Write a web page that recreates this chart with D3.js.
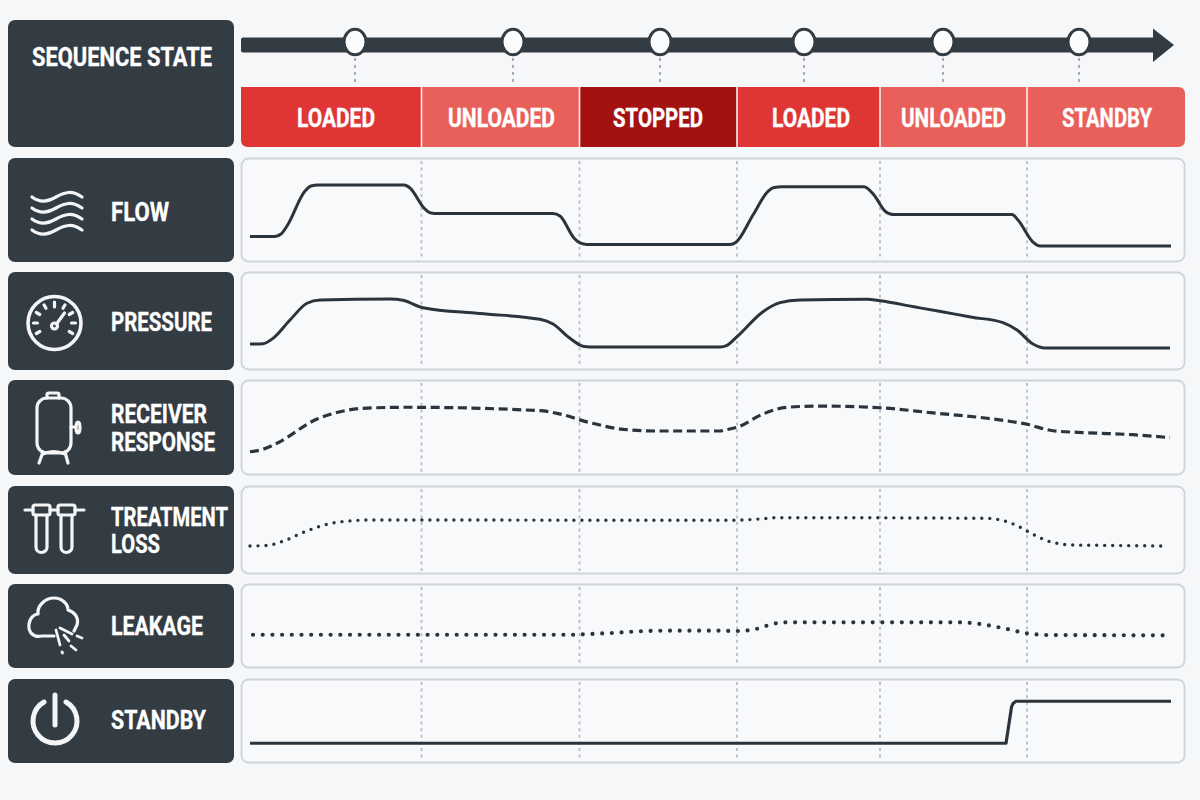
<!DOCTYPE html>
<html>
<head>
<meta charset="utf-8">
<script src="https://cdn.jsdelivr.net/npm/d3@7"></script>
<style>
  html, body { margin: 0; background: #f6f7f9; }
  svg { display: block; }
  text { font-family: "Liberation Sans Narrow", "Roboto", sans-serif; font-weight: 700; fill: #fff; stroke: #fff; stroke-width: 0.35px; }
</style>
</head>
<body>
<div id="chart"></div>
<script>
// states along the sequence
const stateNames = ["LOADED", "UNLOADED", "STOPPED", "LOADED", "UNLOADED", "STANDBY"];
const stateEdges = [-9, 171.5, 329.5, 487, 630, 777, 935];
const stateFills = ["#e03535", "#e9605a", "#a31210", "#e03535", "#e9605a", "#e9605a"];
const markerTimes = [105, 263, 410, 554, 693, 829];

// traces, [time, level] with level as % of the row height
const flowTrace = [[0,24.5],[25,24.5],[31,26.9],[37,34.6],[55,68.3],[61,73.1],[68,74],[154,74],[160,71.2],[174,51.9],[181,47.1],[188,46.6],[303,46.6],[310,44.2],[324,23.1],[330,18.3],[337,16.8],[480,16.8],[486,19],[503,45.2],[518,68],[524,71.6],[532,72.4],[614,72.4],[624,64.4],[635,49],[643,45.7],[762,45.7],[768,40.4],[783,19.2],[790,15.4],[921,15.4]];
const pressureTrace = [[0,26.5],[13,26.8],[23,32.3],[40,51],[57,68.1],[70,71.4],[140,72.4],[153,71.1],[173,63.6],[230,57.6],[290,51.7],[303,46.9],[320,32.3],[333,24.2],[340,23.5],[470,23.5],[477,25.2],[487,34],[513,59.5],[530,68.7],[550,71.4],[617,72.1],[630,70.7],[664,64.5],[692,59.4],[722,53.9],[753,48.3],[767,40.8],[783,26.5],[795,22.4],[920,22.4]];
const receiverTrace = [[0,24.5],[13,27.1],[27,33.4],[67,58.9],[90,66.6],[113,70.2],[157,71.3],[290,67.7],[307,64.9],[340,55.1],[373,48.1],[407,46.3],[470,46.3],[475,47.4],[487,50.2],[513,64.2],[537,71.3],[570,72.6],[630,70.8],[683,65.4],[737,59.7],[777,53.4],[803,46.6],[837,44.5],[883,42.4],[920,39.3]];
const treatmentTrace = [[0,31.8],[18,32.6],[33,37.2],[55,48.1],[78,56.8],[103,60.6],[123,61.4],[477,61],[493,61.4],[513,62.8],[527,64],[737,63.3],[752,61],[768,54.5],[783,45.1],[800,36.7],[823,33],[847,32.6],[918,31.8]];
const leakageTrace = [[3,39.6],[323,39.6],[333,40.1],[362,41.7],[390,43.7],[420,44.4],[470,44.4],[485,44],[503,45.6],[517,50.4],[533,54.4],[710,54.4],[730,52.4],[757,46.4],[777,41.3],[797,39.3],[913,38.9]];
const standbyTrace = [[0,23.5],[756,23.5],[758.5,42.9],[761.5,66.7],[763,70.8],[766,73.5],[921,73.5]];

const rowTraces = [flowTrace, pressureTrace, receiverTrace, treatmentTrace, leakageTrace, standbyTrace];

// layout
const width = 1200, height = 800;
const dark = "#333b43";
const lineDark = "#2b343c";
const rowBoxes = [[158, 262], [272, 370], [380, 475], [486, 574], [584, 668], [679, 763]];
const rowStyles = [
  { w: 3, dash: null, curve: d3.curveMonotoneX },
  { w: 3, dash: null, curve: d3.curveMonotoneX },
  { w: 3.2, dash: "9 4.6", curve: d3.curveMonotoneX },
  { w: 3.4, dash: "0 8", curve: d3.curveMonotoneX },
  { w: 4.2, dash: "0 9.7", curve: d3.curveMonotoneX },
  { w: 3.2, dash: null, curve: d3.curveLinear },
];
// [text, left, right, baseline]
const rowText = [
  [["FLOW", 111, 169, 221]],
  [["PRESSURE", 111, 212, 331]],
  [["RECEIVER", 111, 207, 423], ["RESPONSE", 111, 215, 451]],
  [["TREATMENT", 111, 228, 526], ["LOSS", 111, 160, 553]],
  [["LEAKAGE", 111, 203, 635]],
  [["STANDBY", 111, 206, 729]],
];
const stateText = [[297, 375], [448, 555], [613, 703], [772, 850], [901, 1006], [1062, 1152]];

const x = d3.scaleLinear().domain([-9, 935]).range([241, 1185]);

const svg = d3.select("#chart").append("svg")
  .attr("width", width).attr("height", height)
  .attr("viewBox", [0, 0, width, height]);

function fitText(g, str, left, right, base, size) {
  g.append("text")
    .attr("x", left).attr("y", base)
    .attr("font-size", size)
    .attr("textLength", right - left)
    .attr("lengthAdjust", "spacingAndGlyphs")
    .text(str);
}

// header
svg.append("rect").attr("x", 8).attr("y", 20).attr("width", 226).attr("height", 127).attr("rx", 7).attr("fill", dark);
fitText(svg, "SEQUENCE STATE", 32, 212, 65.5, 25);

// timeline arrow
svg.append("path").attr("fill", dark)
  .attr("d", "M243,37.5 H1153 V28.5 L1174,45 L1153,62 V52.5 H243 Q241,52.5 241,50.5 V39.5 Q241,37.5 243,37.5 Z");

svg.append("g").selectAll("line").data(markerTimes).join("line")
  .attr("x1", d => x(d)).attr("x2", d => x(d))
  .attr("y1", 58).attr("y2", 86)
  .attr("stroke", "#a0a4aa").attr("stroke-width", 1.8).attr("stroke-dasharray", "3 4");

svg.append("g").selectAll("ellipse").data(markerTimes).join("ellipse")
  .attr("cx", d => x(d)).attr("cy", 42)
  .attr("rx", 11).attr("ry", 12.8)
  .attr("fill", "#fbfcfd").attr("stroke", dark).attr("stroke-width", 3);

// state band
const clip = svg.append("clipPath").attr("id", "band-clip");
clip.append("path").attr("d", "M241,87 H1178 Q1185,87 1185,94 V140 Q1185,147 1178,147 H248 Q241,147 241,140 Z");
const band = svg.append("g").attr("clip-path", "url(#band-clip)");
band.selectAll("rect").data(stateNames).join("rect")
  .attr("x", (d, i) => x(stateEdges[i]))
  .attr("width", (d, i) => x(stateEdges[i + 1]) - x(stateEdges[i]))
  .attr("y", 87).attr("height", 60)
  .attr("fill", (d, i) => stateFills[i]);
band.selectAll("line").data(stateEdges.slice(1, -1)).join("line")
  .attr("x1", d => x(d)).attr("x2", d => x(d))
  .attr("y1", 87).attr("y2", 147)
  .attr("stroke", "#fbeeee").attr("stroke-width", 1.6);
stateNames.forEach((name, i) => fitText(svg, name, stateText[i][0], stateText[i][1], 127, 25));

// rows
const line = d3.line();
rowTraces.forEach((trace, i) => {
  const [top, bottom] = rowBoxes[i];
  const y = d3.scaleLinear().domain([0, 100]).range([bottom, top]);
  const g = svg.append("g").attr("class", "row");

  g.append("rect").attr("x", 8).attr("y", top).attr("width", 226).attr("height", bottom - top).attr("rx", 7).attr("fill", dark);
  g.append("rect").attr("x", 241.5).attr("y", top + 0.5).attr("width", 943).attr("height", bottom - top - 1).attr("rx", 7)
    .attr("fill", "#f8f9fa").attr("stroke", "#d0d3d8").attr("stroke-width", 1.8);

  g.selectAll(".edge").data(stateEdges.slice(1, -1)).join("line").attr("class", "edge")
    .attr("x1", d => x(d)).attr("x2", d => x(d))
    .attr("y1", top + 3).attr("y2", bottom - 3)
    .attr("stroke", "#b8bcc2").attr("stroke-width", 1.8).attr("stroke-dasharray", "3 3.6");

  const st = rowStyles[i];
  g.append("path")
    .attr("fill", "none").attr("stroke", lineDark)
    .attr("stroke-width", st.w)
    .attr("stroke-dasharray", st.dash)
    .attr("stroke-linecap", st.dash && st.dash.startsWith("0") ? "round" : "butt")
    .attr("stroke-linejoin", "round")
    .attr("d", line.x(d => x(d[0])).y(d => y(d[1])).curve(st.curve)(trace));

  rowText[i].forEach(t => fitText(g, t[0], t[1], t[2], t[3], 25));
});

// icons
const icons = svg.append("g").attr("fill", "none").attr("stroke", "#f4f5f6")
  .attr("stroke-width", 3.2).attr("stroke-linecap", "round").attr("stroke-linejoin", "round");

[197, 208, 219, 230].forEach(yy => {
  icons.append("path").attr("transform", `translate(32,${yy})`)
    .attr("d", "M0,0 C8,6 15,5 24,0 S40,-7 50,0");
});

const gauge = icons.append("g").attr("transform", "translate(54.5,323)");
gauge.append("circle").attr("r", 26.5).attr("stroke-width", 3.6);
[-120, -90, -60, -30, 0, 30, 60, 90, 120].forEach((a, i) => {
  gauge.append("line").attr("transform", `rotate(${a})`)
    .attr("y1", -21).attr("y2", i === 4 ? -16 : -17);
});
gauge.append("circle").attr("cy", 3).attr("r", 3);
gauge.append("line").attr("x1", 2).attr("y1", 1).attr("x2", 10).attr("y2", -10);

const tank = icons.append("g");
tank.append("rect").attr("x", 37).attr("y", 398).attr("width", 34).attr("height", 55).attr("rx", 10);
tank.append("path").attr("d", "M47,398 V394.5 Q47,393 49,393 H57 Q59,393 59,394.5 V398");
tank.append("path").attr("d", "M43,452 L39,463 M65,452 L68,463 M43,454 Q53,449 65,454");
tank.append("path").attr("d", "M71,427 H76");
tank.append("ellipse").attr("cx", 78).attr("cy", 427.5).attr("rx", 2).attr("ry", 5.5);

icons.append("path").attr("d", "M25,510 H33 M50,510 H58 M75,510 H84");
[[33, 36], [58, 61]].forEach(([cap, tube]) => {
  icons.append("rect").attr("x", cap).attr("y", 505).attr("width", 17).attr("height", 10).attr("rx", 2);
  icons.append("path").attr("d", `M${tube},515 V547 a5.5,5.5 0 0 0 11,0 V515`);
});

icons.append("path")
  .attr("d", "M54,636 L42,636 C33,638 28,632 29,624 C30,617 35,614 38,614 C37,606 45,598 54,598 C62,598 68,604 68,610 C75,612 79,618 77,625 L74,631");
icons.append("path").attr("stroke-width", 2.8)
  .attr("d", "M60,628 L72,634 M77,636 L82,638 M56,630 L60,645 M62,652 L62.5,653 M64,635 L69,641 M71,646 L76,650");

icons.append("path").attr("stroke-width", 5)
  .attr("d", "M44,702 A22,22 0 1 0 66,702");
icons.append("path").attr("stroke-width", 5).attr("d", "M55,695 V725");
</script>
</body>
</html>
